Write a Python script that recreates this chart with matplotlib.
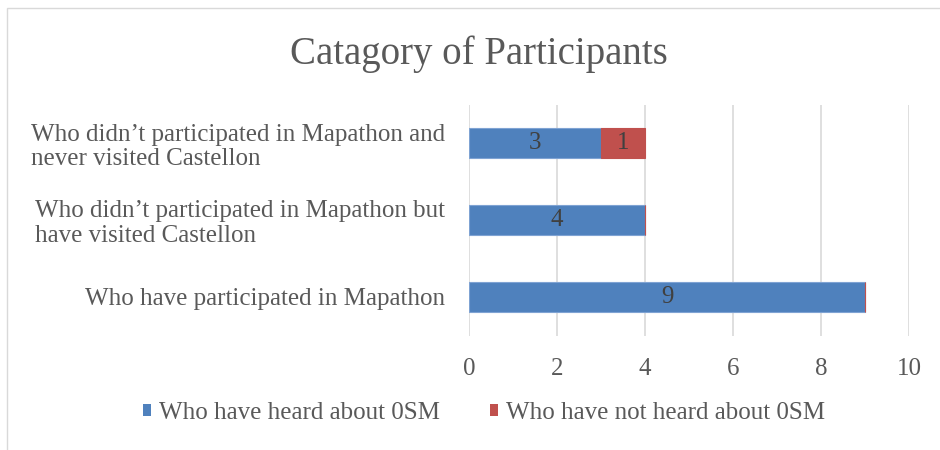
import matplotlib
matplotlib.use("Agg")
import matplotlib.pyplot as plt
from matplotlib.patches import Patch, Rectangle

categories = [
    "Who have participated in Mapathon",
    "Who didn\u2019t participated in Mapathon but\nhave visited Castellon",
    "Who didn\u2019t participated in Mapathon and\nnever visited Castellon",
]
heard = [9, 4, 3]
not_heard = [0, 0, 1]
series_names = ["Who have heard about 0SM", "Who have not heard about 0SM"]
xticks = [0, 2, 4, 6, 8, 10]

plt.rcParams['font.family'] = ['Liberation Serif', 'DejaVu Serif']
BLUE = "#4F81BD"
RED = "#C0504D"
TXT = "#595959"
GRID = "#D9D9D9"

fig = plt.figure(figsize=(9.4, 4.5), dpi=100)
fig.add_artist(Rectangle((7/940, -0.05), 1.0, 1 - 8/450 + 0.05, transform=fig.transFigure,
                         fill=False, edgecolor=GRID, linewidth=1.0))

ax = fig.add_axes([469/940, 1 - 335.5/450, 440/940, 231/450])
y = list(range(len(categories)))
h = 0.39
b1 = ax.barh(y, heard, height=h, color=BLUE, edgecolor="#7FA3D3", linewidth=0.8, zorder=3)
b2 = ax.barh(y, not_heard, left=heard, height=h, color=RED, edgecolor=RED, linewidth=0.8, zorder=3)

for rect, v in zip(b1, heard):
    if v:
        ax.text(rect.get_x() + rect.get_width()/2, rect.get_y() + rect.get_height()/2, str(v),
                ha="center", va="center", fontsize=18, color="#404040", zorder=4)
for rect, v in zip(b2, not_heard):
    if v:
        ax.text(rect.get_x() + rect.get_width()/2, rect.get_y() + rect.get_height()/2, str(v),
                ha="center", va="center", fontsize=18, color="#404040", zorder=4)

ax.set_xlim(0, 10)
ax.set_ylim(-0.5, 2.5)
ax.set_xticks(xticks)
ax.set_xticklabels([str(t) for t in xticks], fontsize=18, color=TXT)
ax.set_yticks(y)
ax.set_yticklabels(categories, fontsize=18, color=TXT, linespacing=1.17, multialignment="left")
ax.tick_params(axis="both", length=0)
ax.tick_params(axis="x", pad=16)
ax.tick_params(axis="y", pad=17)
ax.grid(axis="x", color=GRID, linewidth=1.2, zorder=0)
for s in ax.spines.values():
    s.set_visible(False)

fig.text(479/940, 1 - 54/450, "Catagory of Participants", ha="center", va="center",
         fontsize=28, color=TXT)

handles = [Patch(facecolor=BLUE), Patch(facecolor=RED)]
fig.legend(handles, series_names, loc="center", bbox_to_anchor=(484/940, 1 - 413/450), ncol=2,
           frameon=False, fontsize=18, labelcolor=TXT, handlelength=0.33, handleheight=0.33,
           handletextpad=0.3, columnspacing=2.0)

fig.savefig("out.png", dpi=100)
